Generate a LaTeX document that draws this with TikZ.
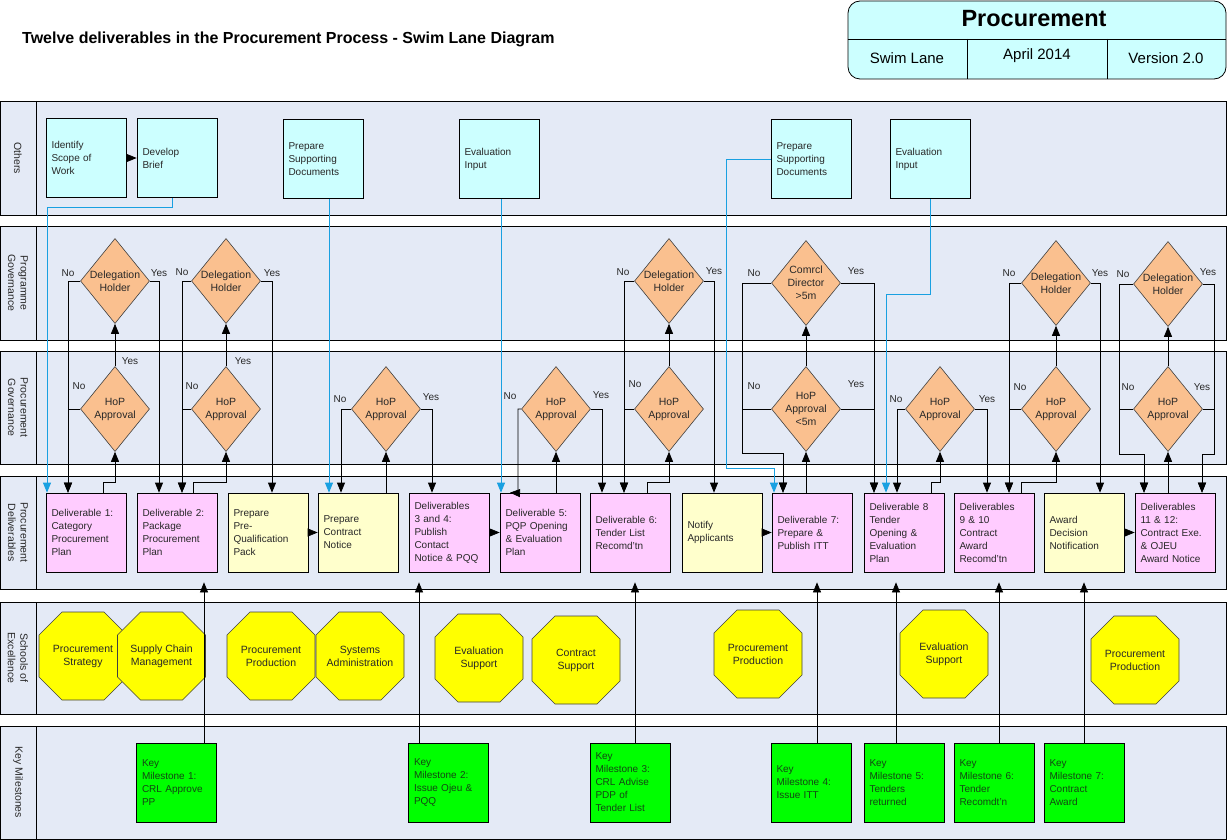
\documentclass[tikz,border=0pt]{standalone}
\usepackage{fontspec}
\setmainfont{Liberation Sans}
\usetikzlibrary{arrows.meta,shapes.geometric,calc}
\definecolor{lanebg}{RGB}{228,234,246}
\definecolor{cyanb}{RGB}{204,255,255}
\definecolor{pinkb}{RGB}{255,204,255}
\definecolor{yelb}{RGB}{255,255,204}
\definecolor{greenb}{RGB}{0,255,0}
\definecolor{msgreen}{RGB}{20,70,20}
\definecolor{diafill}{RGB}{250,192,143}
\definecolor{octfill}{RGB}{255,255,0}
\definecolor{bluec}{RGB}{25,160,225}
\definecolor{txtc}{RGB}{40,40,40}
\newcommand{\octagonat}[4]{%
  \draw[octs] (#2,#3) ++(-44,-21) -- ++(23,-23) -- ++(42,0) -- ++(23,23) -- ++(0,42) -- ++(-23,23) -- ++(-42,0) -- ++(-23,-23) -- cycle;
  \node[octtxt] (#1) at (#2,#3) {#4};}
\begin{document}
\begin{tikzpicture}[x=1pt,y=-1pt,
  lane/.style={draw=black, line width=0.9pt, fill=lanebg},
  laneline/.style={draw=black, line width=0.9pt},
  lanelbl/.style={rotate=-90, align=center, font=\fontsize{10.5}{12.5}\selectfont, text=txtc, inner sep=0pt},
  box/.style={draw=black, line width=0.7pt, minimum width=80pt, minimum height=79pt, text width=69pt, inner xsep=5.5pt, inner ysep=0pt, align=left, font=\fontsize{10}{13}\selectfont, text=txtc},
  cbox/.style={box, fill=cyanb},
  pbox/.style={box, fill=pinkb},
  ybox/.style={box, fill=yelb},
  mbox/.style={box, fill=greenb, text=msgreen},
  dia/.style={diamond, draw=black!75, line width=0.6pt, fill=diafill, minimum width=69pt, minimum height=85pt, inner sep=0pt},
  dlbl/.style={align=center, font=\fontsize{10.5}{13}\selectfont, text=txtc, inner sep=0pt},
  octs/.style={draw=black!75, line width=0.6pt, fill=octfill},
  octtxt/.style={align=center, font=\fontsize{10.5}{13}\selectfont, text=txtc, inner sep=0pt},
  yn/.style={font=\fontsize{10}{12}\selectfont, text=txtc, inner sep=0pt},
  arr/.style={draw=black, line width=0.7pt, -{Triangle[length=10pt,width=8pt]}},
  barr/.style={draw=bluec, line width=0.8pt, -{Triangle[length=10pt,width=8pt]}}]
\useasboundingbox (0,0) rectangle (1227,840);

% ---------- header ----------
\node[font=\fontsize{16}{19}\selectfont\bfseries, anchor=west, inner sep=0pt] (title) at (22,39) {Twelve deliverables in the Procurement Process - Swim Lane Diagram};
\node[draw=black, line width=0.8pt, fill=cyanb, rounded corners=12pt, minimum width=378pt, minimum height=78pt, inner sep=0pt] (tbox) at (1037,40) {};
\draw[line width=0.8pt] (tbox.west |- 0,39) -- (tbox.east |- 0,39);
\draw[line width=0.8pt] (967,39) -- (967,79);
\draw[line width=0.8pt] (1107,39) -- (1107,79);
\node[font=\fontsize{23.5}{26}\selectfont\bfseries, inner sep=0pt] (tproc) at (1034,19) {Procurement};
\node[font=\fontsize{15}{17}\selectfont, inner sep=0pt] (tswim) at (907,58) {Swim Lane};
\node[font=\fontsize{15}{17}\selectfont, inner sep=0pt] (tapr) at (1037,56) {April 2014};
\node[font=\fontsize{15}{17}\selectfont, inner sep=0pt] (tver) at (1166,58) {Version 2.0};

% ---------- lanes ----------
\foreach \t/\b in {101/215, 226/340, 351/464, 476/589, 602/714, 726/839} {
  \draw[lane] (0.5,\t) rectangle (1226,\b);
  \draw[laneline] (36,\t) -- (36,\b);
}
\node[lanelbl] (lo) at (18,158) {Others};
\node[lanelbl] (lpg) at (18,283) {Programme\\Governance};
\node[lanelbl] (lprg) at (18,407.5) {Procurement\\Governance};
\node[lanelbl] (lpd) at (18,532.5) {Procurement\\Deliverables};
\node[lanelbl] (lse) at (18,658) {Schools of\\Excellence};
\node[lanelbl] (lkm) at (18,782.5) {Key Milestones};

% ---------- Others ----------
\node[cbox] (id) at (86,158) {Identify\\Scope of\\Work};
\node[cbox] (db) at (177,158) {Develop\\Brief};
\node[cbox] (psd1) at (323,159) {Prepare\\Supporting\\Documents};
\node[cbox] (ei1) at (499,159) {Evaluation\\Input};
\node[cbox] (psd2) at (811,159) {Prepare\\Supporting\\Documents};
\node[cbox] (ei2) at (930,159) {Evaluation\\Input};

% ---------- Governance diamonds ----------
\node[dia, label={[dlbl]center:Delegation\\Holder}] (dh1) at (115,281) {};
\node[dia, label={[dlbl]center:Delegation\\Holder}] (dh2) at (226,281) {};
\node[dia, label={[dlbl]center:Delegation\\Holder}] (dh3) at (669,281) {};
\node[dia, label={[dlbl]center:Comrcl\\Director\\>5m}] (cd) at (806,283) {};
\node[dia, label={[dlbl]center:Delegation\\Holder}] (dh4) at (1056,283) {};
\node[dia, label={[dlbl]center:Delegation\\Holder}] (dh5) at (1168,284) {};
\node[dia, label={[dlbl]center:HoP\\Approval}] (hop1) at (115,409) {};
\node[dia, label={[dlbl]center:HoP\\Approval}] (hop2) at (226,409) {};
\node[dia, label={[dlbl]center:HoP\\Approval}] (hop3) at (386,409) {};
\node[dia, label={[dlbl]center:HoP\\Approval}] (hop4) at (556,409) {};
\node[dia, label={[dlbl]center:HoP\\Approval}] (hop5) at (669,409) {};
\node[dia, label={[dlbl]center:HoP\\Approval\\<5m}] (hop6) at (806,409) {};
\node[dia, label={[dlbl]center:HoP\\Approval}] (hop7) at (940,409) {};
\node[dia, label={[dlbl]center:HoP\\Approval}] (hop8) at (1056,409) {};
\node[dia, label={[dlbl]center:HoP\\Approval}] (hop9) at (1168,409) {};

% ---------- Deliverables ----------
\node[pbox] (d1) at (86,532.5) {Deliverable 1:\\Category\\Procurement\\Plan};
\node[pbox] (d2) at (177,532.5) {Deliverable 2:\\Package\\Procurement\\Plan};
\node[ybox] (ppq) at (268,532.5) {Prepare\\Pre-\\Qualification\\Pack};
\node[ybox] (pcn) at (358,532.5) {Prepare\\Contract\\Notice};
\node[pbox] (d34) at (449,532.5) {Deliverables\\3 and 4:\\Publish\\Contact\\Notice \& PQQ};
\node[pbox] (d5) at (540,532.5) {Deliverable 5:\\PQP Opening\\\& Evaluation\\Plan};
\node[pbox] (d6) at (630,532.5) {Deliverable 6:\\Tender List\\Recomd'tn};
\node[ybox] (na) at (722,532.5) {Notify\\Applicants};
\node[pbox] (d7) at (812,532.5) {Deliverable 7:\\Prepare \&\\Publish ITT};
\node[pbox] (d8) at (904,532.5) {Deliverable 8\\Tender\\Opening \&\\Evaluation\\Plan};
\node[pbox] (d910) at (994,532.5) {Deliverables\\9 \& 10\\Contract\\Award\\Recomd'tn};
\node[ybox] (aw) at (1084,532.5) {Award\\Decision\\Notification};
\node[pbox] (d1112) at (1175,532.5) {Deliverables\\11 \& 12:\\Contract Exe.\\\& OJEU\\Award Notice};

% ---------- Schools of Excellence ----------
\octagonat{o1}{83}{656}{Procurement\\Strategy}
\octagonat{o2}{161.5}{656}{Supply Chain\\Management}
\octagonat{o3}{271}{656}{Procurement\\Production}
\octagonat{o4}{360}{656}{Systems\\Administration}
\octagonat{o5}{479}{658}{Evaluation\\Support}
\octagonat{o6}{576}{660}{Contract\\Support}
\octagonat{o7}{758}{654}{Procurement\\Production}
\octagonat{o8}{944}{654}{Evaluation\\Support}
\octagonat{o9}{1135}{660}{Procurement\\Production}

% ---------- Key Milestones ----------
\node[mbox] (m1) at (176.5,782.5) {Key\\Milestone 1:\\CRL Approve\\PP};
\node[mbox] (m2) at (448.5,782.5) {Key\\Milestone 2:\\Issue Ojeu \&\\PQQ};
\node[mbox] (m3) at (630,782.5) {Key\\Milestone 3:\\CRL Advise\\PDP of\\Tender List};
\node[mbox] (m4) at (811,782.5) {Key\\Milestone 4:\\Issue ITT};
\node[mbox] (m5) at (904,782.5) {Key\\Milestone 5:\\Tenders\\returned};
\node[mbox] (m6) at (994,782.5) {Key\\Milestone 6:\\Tender\\Recomdt'n};
\node[mbox] (m7) at (1084,782.5) {Key\\Milestone 7:\\Contract\\Award};

% ---------- flow arrows ----------
\draw[arr] (id.east) -- (db.west);
\draw[arr] (ppq.east) -- (pcn.west);
\draw[arr] (d34.east) -- (d5.west);
\draw[arr] (na.east) -- (d7.west);
\draw[arr] (aw.east) -- (d1112.west);

% ---------- milestone links ----------
\draw[arr, shorten >=10pt] (m1.north -| 204,0) -- (d2.south -| 204,0);
\draw[arr, shorten >=10pt] (m2.north -| 419,0) -- (d34.south -| 419,0);
\draw[arr, shorten >=10pt] (m3.north -| 635,0) -- (d6.south -| 635,0);
\draw[arr, shorten >=10pt] (m4.north -| 817,0) -- (d7.south -| 817,0);
\draw[arr, shorten >=10pt] (m5.north -| 896,0) -- (d8.south -| 896,0);
\draw[arr, shorten >=10pt] (m6.north -| 999,0) -- (d910.south -| 999,0);
\draw[arr, shorten >=10pt] (m7.north -| 1084,0) -- (aw.south -| 1084,0);

% ---------- blue links from Others ----------
\draw[barr] (db.south -| 172,0) -- (172,207) -| (d1.north -| 47,0);
\draw[barr] (psd1.south -| 329,0) -- (pcn.north -| 329,0);
\draw[barr] (ei1.south -| 501,0) -- (d5.north -| 501,0);
\draw[barr] (psd2.west) -| (726,468) -| (d7.north -| 774,0);
\draw[barr] (ei2.south -| 930,0) -- (930,294) -| (d8.north -| 886,0);

% ---------- group 1 ----------
\draw[arr] (d1.north -| 103,0) -- (103,482) -| (hop1.south);
\draw[arr] (hop1.north) -- (dh1.south);
\draw[arr] (hop1.west) -| (d1.north -| 68,0);
\draw[arr] (dh1.west) -| (d1.north -| 68,0);
\draw[arr] (dh1.east) -| (d2.north -| 159,0);
\node[yn] (n1) at (68,273) {No};
\node[yn] (y1) at (159,273) {Yes};
\node[yn] (y2) at (130,361) {Yes};
\node[yn] (n2) at (79,386) {No};
% ---------- group 2 ----------
\draw[arr] (d2.north -| 193,0) -- (193,482) -| (hop2.south);
\draw[arr] (hop2.north) -- (dh2.south);
\draw[arr] (hop2.west) -| (d2.north -| 182,0);
\draw[arr] (dh2.west) -| (d2.north -| 182,0);
\draw[arr] (dh2.east) -| (ppq.north -| 272,0);
\node[yn] (n3) at (182,272) {No};
\node[yn] (y3) at (272,273) {Yes};
\node[yn] (y4) at (243,361) {Yes};
\node[yn] (n4) at (192,386) {No};
% ---------- group 3 ----------
\draw[arr] (pcn.north -| hop3.south) -- (hop3.south);
\draw[arr] (hop3.west) -| (pcn.north -| 341,0);
\draw[arr] (hop3.east) -| (d34.north -| 432,0);
\node[yn] (n5) at (340,399) {No};
\node[yn] (y5) at (431,397) {Yes};
% ---------- group 4 ----------
\draw[arr] (d5.north -| hop4.south) -- (hop4.south);
\draw[arr] (hop4.west) -| (518,493) -- (d5.north -| 510,0);
\draw[arr] (hop4.east) -| (d6.north -| 602,0);
\node[yn] (n6) at (510,396) {No};
\node[yn] (y6) at (601,395) {Yes};
% ---------- group 5 ----------
\draw[arr] (d6.north -| 647,0) -- (647,482) -| (hop5.south);
\draw[arr] (hop5.north) -- (dh3.south);
\draw[arr] (hop5.west) -| (d6.north -| 624,0);
\draw[arr] (dh3.west) -| (d6.north -| 624,0);
\draw[arr] (dh3.east) -| (na.north -| 714,0);
\node[yn] (n7) at (623,272) {No};
\node[yn] (y7) at (714,271) {Yes};
\node[yn] (n8) at (635,384) {No};
% ---------- group 6 ----------
\draw[arr] (d7.north -| hop6.south) -- (hop6.south);
\draw[arr] (hop6.north) -- (cd.south);
\draw[arr] (hop6.west) -| (742,453) -| (d7.north -| 783,0);
\draw[arr] (cd.west) -| (742,453) -| (d7.north -| 783,0);
\draw[arr] (cd.east) -| (d8.north -| 874,0);
\draw[arr] (hop6.east) -| (d8.north -| 874,0);
\node[yn] (n9) at (754,273) {No};
\node[yn] (y9) at (856,271) {Yes};
\node[yn] (n10) at (754,386) {No};
\node[yn] (y10) at (856,384) {Yes};
% ---------- group 7 ----------
\draw[arr] (d8.north -| 931,0) -- (931,482) -| (hop7.south);
\draw[arr] (hop7.west) -| (d8.north -| 897,0);
\draw[arr] (hop7.east) -| (d910.north -| 987,0);
\node[yn] (n11) at (896,399) {No};
\node[yn] (y11) at (987,399) {Yes};
% ---------- group 8 ----------
\draw[arr] (d910.north -| 1021,0) -- (1021,482) -| (hop8.south);
\draw[arr] (hop8.north) -- (dh4.south);
\draw[arr] (hop8.west) -| (d910.north -| 1009,0);
\draw[arr] (dh4.west) -| (d910.north -| 1009,0);
\draw[arr] (dh4.east) -| (aw.north -| 1100,0);
\node[yn] (n12) at (1009,273) {No};
\node[yn] (y12) at (1100,273) {Yes};
\node[yn] (n13) at (1020,387) {No};
% ---------- group 9 ----------
\draw[arr] (d1112.north -| hop9.south) -- (hop9.south);
\draw[arr] (hop9.north) -- (dh5.south);
\draw[arr] (hop9.west) -| (1119,454) -| (d1112.north -| 1144,0);
\draw[arr] (dh5.west) -| (1119,454) -| (d1112.north -| 1144,0);
\draw[arr] (hop9.east) -| (1214,454) -| (d1112.north -| 1202,0);
\draw[arr] (dh5.east) -| (1214,454) -| (d1112.north -| 1202,0);
\node[yn] (n14) at (1123,274) {No};
\node[yn] (y14) at (1208,272) {Yes};
\node[yn] (n15) at (1128,387) {No};
\node[yn] (y15) at (1202,387) {Yes};
\end{tikzpicture}
\end{document}
